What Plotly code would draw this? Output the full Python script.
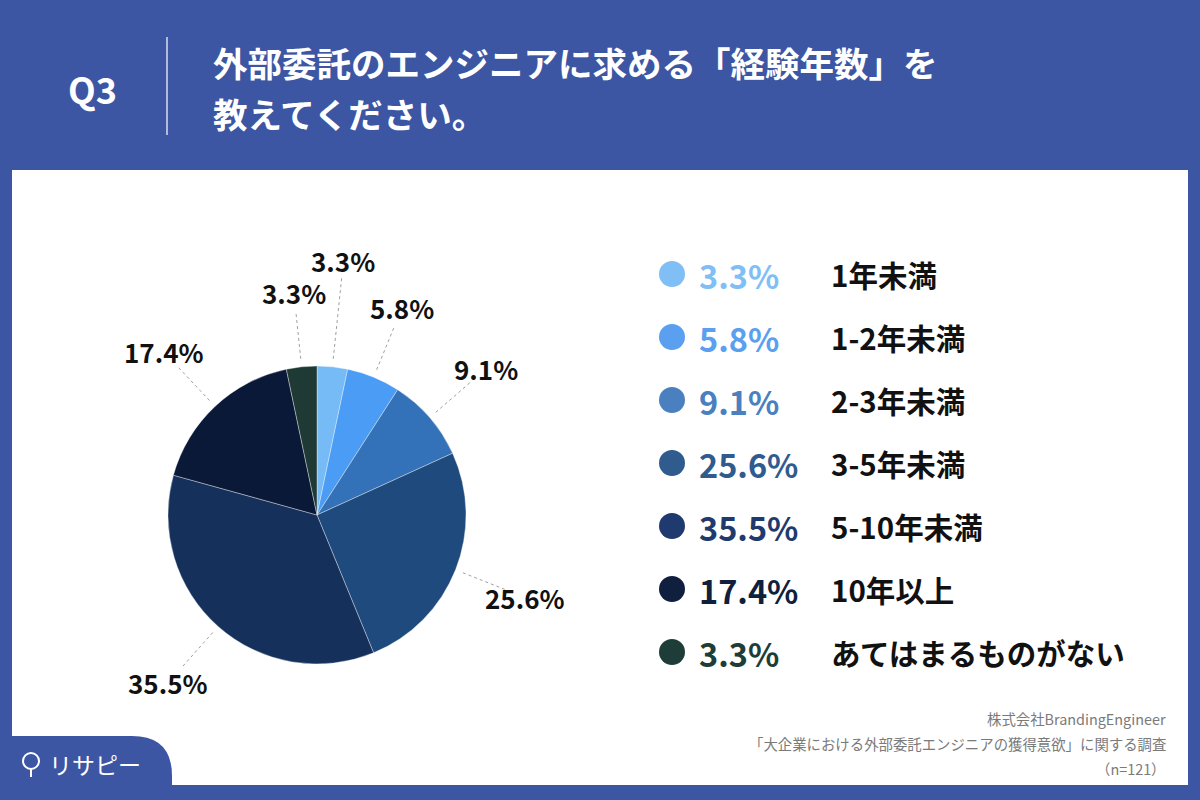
import numpy as np
import plotly.graph_objects as go

# ---- data ----
categories = ["1年未満", "1-2年未満", "2-3年未満", "3-5年未満", "5-10年未満", "10年以上", "あてはまるものがない"]
values = [3.3, 5.8, 9.1, 25.6, 35.5, 17.4, 3.3]
slice_colors = ["#76baf6", "#4a9cf4", "#3372b8", "#1f4a7d", "#14305b", "#0a1938", "#1f3a35"]
legend_colors = ["#80bff6", "#5b9ff0", "#4a7fc0", "#2f5b8f", "#1f3a6e", "#0f1f3d", "#1f3d38"]
title_q = "Q3"
title_lines = ["外部委託のエンジニアに求める「経験年数」を", "教えてください。"]
source_lines = ["株式会社BrandingEngineer", "「大企業における外部委託エンジニアの獲得意欲」に関する調査", "（n=121）"]

BLUE = "#3c56a3"
FONT = "Noto Sans CJK JP"
W, H = 1200, 800

# pie geometry (pixels)
cx, cy, R = 317, 515, 149

fig = go.Figure()

fig.add_trace(go.Pie(
    values=values, labels=categories, sort=False, direction="clockwise", rotation=0,
    marker=dict(colors=slice_colors, line=dict(color="rgba(255,255,255,0.6)", width=0.6)),
    textinfo="none", hoverinfo="label+percent", showlegend=False,
    domain=dict(x=[(cx - R) / W, (cx + R) / W], y=[1 - (cy + R) / H, 1 - (cy - R) / H]),
))

# legend dots via scatter on pixel axes
rows_y = [274 + 63 * i for i in range(len(values))]
fig.add_trace(go.Scatter(
    x=[672] * len(values), y=rows_y, mode="markers",
    marker=dict(size=26, color=legend_colors), showlegend=False, hoverinfo="skip",
))

shapes = []
annotations = []

# panel + header decorations
shapes.append(dict(type="rect", xref="x", yref="y", x0=12, x1=1188, y0=170, y1=785,
                   fillcolor="white", line=dict(width=0), layer="below"))
shapes.append(dict(type="line", xref="x", yref="y", x0=167, x1=167, y0=37, y1=135,
                   line=dict(color="white", width=1.2)))
shapes.append(dict(type="path", xref="x", yref="y",
                   path="M 0 736 L 132 736 Q 172 736 172 776 L 172 800 L 0 800 Z",
                   fillcolor=BLUE, line=dict(width=0), layer="below"))
# logo pin icon
shapes.append(dict(type="circle", xref="x", yref="y", x0=23, x1=39, y0=753, y1=769,
                   line=dict(color="white", width=2)))
shapes.append(dict(type="line", xref="x", yref="y", x0=31, x1=31, y0=769, y1=777,
                   line=dict(color="white", width=2)))

annotations.append(dict(x=92, y=88, xref="x", yref="y", text=title_q, showarrow=False,
                        font=dict(family=FONT, size=36, color="white", weight="bold")))
for i, t in enumerate(title_lines):
    annotations.append(dict(x=211, y=62 + 51 * i, xref="x", yref="y", text=t, showarrow=False,
                            xanchor="left", yanchor="middle",
                            font=dict(family=FONT, size=34.5, color="white", weight="bold")))

# pie labels with dotted leader lines, positioned from cumulative values
vals = np.array(values)
cum = np.cumsum(vals) - vals / 2
ang = np.deg2rad(cum / vals.sum() * 360)
for i, (a, v) in enumerate(zip(ang, values)):
    r_in = R + 8
    r_out = 240 if i == 0 else 202
    r_lab = 256 if i == 0 else 224
    sx, sy = np.sin(a), -np.cos(a)
    shapes.append(dict(type="line", xref="x", yref="y",
                       x0=cx + r_in * sx, y0=cy + r_in * sy, x1=cx + r_out * sx, y1=cy + r_out * sy,
                       line=dict(color="#a0a0a0", width=1, dash="dot")))
    annotations.append(dict(x=cx + r_lab * sx, y=cy + r_lab * sy, xref="x", yref="y",
                            text=f"{v:.1f}%", showarrow=False,
                            font=dict(family=FONT, size=26, color="#111111", weight="bold")))

# legend texts
for i, (c, v) in enumerate(zip(categories, values)):
    annotations.append(dict(x=697, y=rows_y[i], xref="x", yref="y", text=f"{v:.1f}%",
                            showarrow=False, xanchor="left", yanchor="middle",
                            font=dict(family=FONT, size=32.5, color=legend_colors[i], weight="bold")))
    annotations.append(dict(x=829, y=rows_y[i], xref="x", yref="y", text=c,
                            showarrow=False, xanchor="left", yanchor="middle",
                            font=dict(family=FONT, size=29.5, color="#111111", weight="bold")))

# source
for i, t in enumerate(source_lines):
    annotations.append(dict(x=1168, y=718 + 25 * i, xref="x", yref="y", text=t, showarrow=False,
                            xanchor="right", yanchor="middle",
                            font=dict(family=FONT, size=14.4, color="#7a7a7a")))

# logo text
annotations.append(dict(x=47, y=764, xref="x", yref="y", text="リサピー", showarrow=False,
                        xanchor="left", yanchor="middle",
                        font=dict(family=FONT, size=23, color="white")))

fig.update_layout(
    width=W, height=H, margin=dict(l=0, r=0, t=0, b=0),
    paper_bgcolor=BLUE, plot_bgcolor="rgba(0,0,0,0)",
    xaxis=dict(range=[0, W], visible=False, fixedrange=True, domain=[0, 1]),
    yaxis=dict(range=[H, 0], visible=False, fixedrange=True, domain=[0, 1]),
    shapes=shapes, annotations=annotations, showlegend=False,
)

fig.write_html("out.html", config={"displayModeBar": False},
               post_script="document.body.style.margin='0px';document.body.style.overflow='hidden';")
